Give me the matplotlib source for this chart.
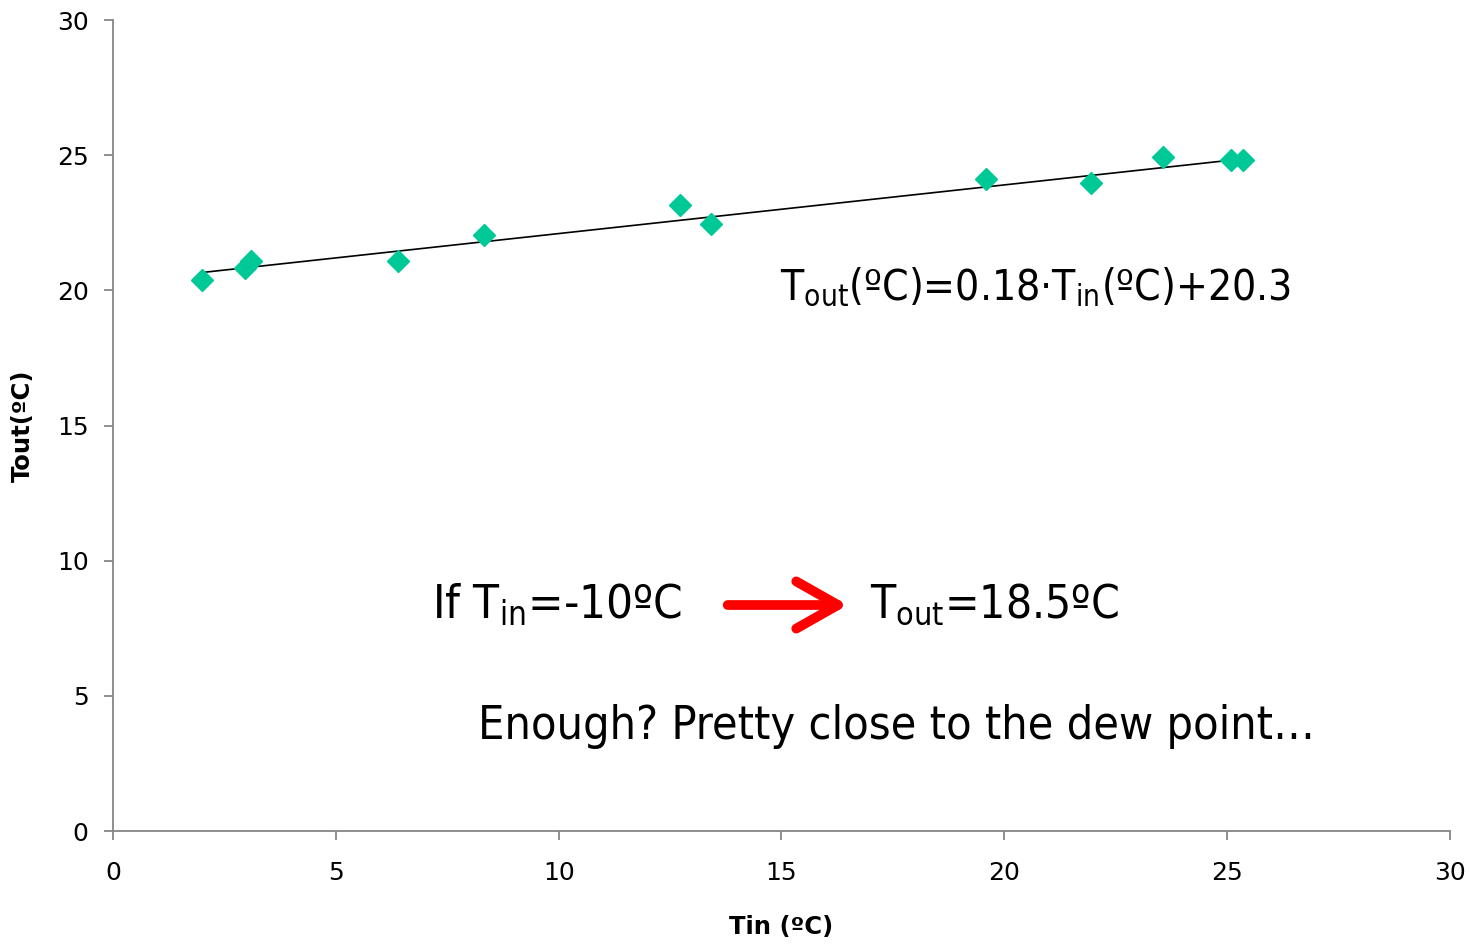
import numpy as np
import matplotlib.pyplot as plt

# measured points (Tin, Tout)
tin = [2.0, 2.96, 3.1, 6.39, 8.32, 12.72, 13.42, 19.59, 21.94, 23.56, 25.08, 25.35]
tout = [20.38, 20.83, 21.09, 21.09, 22.05, 23.16, 22.46, 24.12, 23.97, 24.94, 24.82, 24.82]

slope = 0.18
intercept = 20.3

x_ticks = [0, 5, 10, 15, 20, 25, 30]
y_ticks = [0, 5, 10, 15, 20, 25, 30]

plt.rcParams['mathtext.fontset'] = 'custom'
plt.rcParams['mathtext.rm'] = 'DejaVu Sans:stretch=condensed'
plt.rcParams['mathtext.it'] = 'DejaVu Sans:stretch=condensed'

fig = plt.figure(figsize=(14.71, 9.44), dpi=100)
ax = fig.add_axes([0.0768, 0.1197, 0.9089, 0.8591])

ax.plot(tin, tout, 'D', color='#00c896', ms=11, mec='#00c896', zorder=3)
xl = np.array([min(tin), max(tin)])
ax.plot(xl, slope * xl + intercept, color='black', lw=1.2, zorder=2)

ax.set_xlim(0, 30)
ax.set_ylim(0, 30)
ax.set_xticks(x_ticks)
ax.set_yticks(y_ticks)
for s in ['top', 'right']:
    ax.spines[s].set_visible(False)
for s in ['left', 'bottom']:
    ax.spines[s].set_color('#868686')
    ax.spines[s].set_linewidth(1.3)
ax.tick_params(axis='both', direction='out', length=6.5, width=1.3, color='#868686', labelsize=18)
ax.tick_params(axis='x', pad=15)
ax.tick_params(axis='y', pad=11)

ax.set_xlabel('Tin (ºC)', fontsize=17.5, fontweight='bold', labelpad=22)
ax.set_ylabel('Tout(ºC)', fontsize=17.5, fontweight='bold', labelpad=16)

big = dict(fontstretch='condensed', va='center', ha='left')
ax.text(14.97, 20.1, r'T$_{\mathrm{out}}$(ºC)=0.18·T$_{\mathrm{in}}$(ºC)+20.3', fontsize=30.5, **big)
ax.text(7.16, 8.36, r'If T$_{\mathrm{in}}$=-10ºC', fontsize=34, **big)
ax.text(16.98, 8.36, r'T$_{\mathrm{out}}$=18.5ºC', fontsize=33, **big)
ax.text(8.19, 3.85, 'Enough? Pretty close to the dew point…', fontsize=33.5, **big)

ax.annotate('', xy=(16.55, 8.36), xytext=(13.73, 8.36),
            arrowprops=dict(arrowstyle='->,head_length=1.5,head_width=0.85', lw=7,
                            color='red', mutation_scale=20))

fig.savefig('out.png', dpi=100)
